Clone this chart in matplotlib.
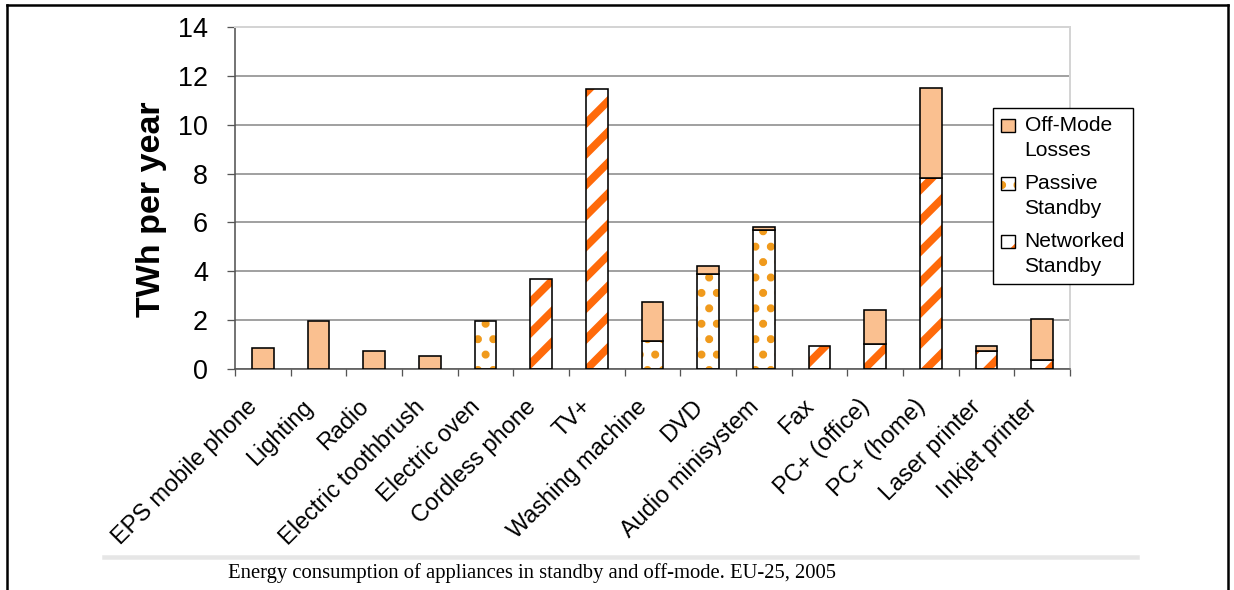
import numpy as np
import matplotlib
matplotlib.use("Agg")
import matplotlib.pyplot as plt
from matplotlib.lines import Line2D
from matplotlib.patches import Patch, Rectangle
from matplotlib.transforms import ScaledTranslation

# standby / off-mode consumption per appliance, TWh per year
appliances = ["EPS mobile phone", "Lighting", "Radio", "Electric toothbrush",
              "Electric oven", "Cordless phone", "TV+", "Washing machine", "DVD",
              "Audio minisystem", "Fax", "PC+ (office)", "PC+ (home)",
              "Laser printer", "Inkjet printer"]
networked = [0, 0, 0, 0, 0, 3.7, 11.45, 0, 0, 0, 0.93, 1.03, 7.82, 0.72, 0.38]
passive = [0, 0, 0, 0, 1.95, 0, 0, 1.13, 3.88, 5.7, 0, 0, 0, 0, 0]
offmode = [0.85, 1.95, 0.72, 0.53, 0, 0, 0, 1.6, 0.35, 0.1, 0, 1.38, 3.7, 0.22, 1.68]
yticks = [0, 2, 4, 6, 8, 10, 12, 14]
series_labels = ["Off-Mode\nLosses", "Passive\nStandby", "Networked\nStandby"]

caption = "Energy consumption of appliances in standby and off-mode. EU-25, 2005"

PEACH = "#fac090"
STRIPE = "#ff6a0a"
DOTS = "#f09a1c"

DPI = 185
W, H = 1234, 590
plt.rcParams["font.family"] = ["Liberation Sans", "DejaVu Sans"]

STRIPE_LW = 3.0
DOT_LW = 1.9
STRIPE_HATCH = "//"
DOT_HATCH = ".."
plt.rcParams["hatch.linewidth"] = STRIPE_LW


def pt(px):
    return px * 72.0 / DPI


def hatch_lw(patches, lw):
    for p in patches:
        if hasattr(p, "set_hatch_linewidth"):
            p.set_hatch_linewidth(lw)


fig = plt.figure(figsize=(W / DPI, H / DPI), dpi=DPI)
X0, X1, Y0, Y1 = 235, 1070, 369, 27
ax = fig.add_axes([X0 / W, 1 - Y0 / H, (X1 - X0) / W, (Y0 - Y1) / H])

x = np.arange(len(appliances))
net = np.array(networked)
pas = np.array(passive)
off = np.array(offmode)
bw = 0.395
edge_lw = pt(1.6)


def edges(vals):
    return ["black" if v > 0 else "none" for v in vals]


# networked standby: white with orange stripes
with plt.rc_context({"hatch.linewidth": STRIPE_LW}):
    b = ax.bar(x, net, bw, color="white", edgecolor=STRIPE, hatch=STRIPE_HATCH,
               linewidth=0, zorder=2)
hatch_lw(b, STRIPE_LW)
ax.bar(x, net, bw, fill=False, edgecolor=edges(net), linewidth=edge_lw, zorder=3)

# passive standby: white with orange dots
with plt.rc_context({"hatch.linewidth": DOT_LW}):
    b = ax.bar(x, pas, bw, bottom=net, color="white", edgecolor=DOTS, hatch=DOT_HATCH,
               linewidth=0, zorder=2)
hatch_lw(b, DOT_LW)
ax.bar(x, pas, bw, bottom=net, fill=False, edgecolor=edges(pas), linewidth=edge_lw, zorder=3)

# off-mode losses: plain peach
ax.bar(x, off, bw, bottom=net + pas, color=PEACH, edgecolor=edges(off),
       linewidth=edge_lw, zorder=3)

ax.set_xlim(-0.5, len(appliances) - 0.5)
ax.set_ylim(0, 14)
ax.set_yticks(yticks)
ax.set_yticklabels([str(v) for v in yticks], fontsize=pt(27))
ax.tick_params(axis="y", length=pt(8), width=pt(1.3), color="#555555", pad=pt(19))

ax.set_xticks(x)
ax.set_xticklabels(appliances, rotation=45, ha="right", va="top",
                   rotation_mode="anchor", fontsize=pt(23.5))
ax.tick_params(axis="x", which="major", length=0, pad=pt(26))
shift = ScaledTranslation(-17 / DPI, 0, fig.dpi_scale_trans)
for lab in ax.get_xticklabels():
    lab.set_transform(lab.get_transform() + shift)
ax.set_xticks(np.arange(-0.5, len(appliances)), minor=True)
ax.tick_params(axis="x", which="minor", length=pt(7), width=pt(1.3), color="#555555",
               direction="out")

ax.set_axisbelow(True)
ax.yaxis.grid(True, color="#8c8c8c", linewidth=pt(1.6))
for side in ("left", "bottom"):
    ax.spines[side].set_color("#555555")
    ax.spines[side].set_linewidth(pt(1.6))
for side in ("top", "right"):
    ax.spines[side].set_color("#d4d4d4")
    ax.spines[side].set_linewidth(pt(2.0))

ax.set_ylabel("TWh per year", fontsize=pt(34), fontweight="bold")
ax.yaxis.set_label_coords((167 - X0) / (X1 - X0), (Y0 - 209) / (Y0 - Y1))


class Swatch:
    """Small legend square, lifted so it sits beside the first label line."""

    def __init__(self, face, hatch=None, hcolor=None, hlw=None, lift=0.0):
        self.face, self.hatch, self.hcolor, self.hlw, self.lift = face, hatch, hcolor, hlw, lift

    def legend_artist(self, legend, orig_handle, fontsize, handlebox):
        x0, y0 = -handlebox.xdescent, -handlebox.ydescent + self.lift
        w, h = handlebox.width, handlebox.height
        tr = handlebox.get_transform()
        if self.hatch:
            with plt.rc_context({"hatch.linewidth": self.hlw}):
                hp = Rectangle((x0, y0), w, h, facecolor=self.face, edgecolor=self.hcolor,
                               hatch=self.hatch, linewidth=0, transform=tr)
            hatch_lw([hp], self.hlw)
            handlebox.add_artist(hp)
        else:
            handlebox.add_artist(Rectangle((x0, y0), w, h, facecolor=self.face,
                                           linewidth=0, transform=tr))
        box = Rectangle((x0, y0), w, h, fill=False, edgecolor="black",
                        linewidth=pt(1.4), transform=tr)
        handlebox.add_artist(box)
        return box


lift = pt(12.5)
h_off = Patch(facecolor=PEACH)
h_pas = Patch(facecolor="white")
h_net = Patch(facecolor="white")
handlers = {
    h_off: Swatch(PEACH, lift=lift),
    h_pas: Swatch("white", DOT_HATCH, DOTS, DOT_LW, lift=lift),
    h_net: Swatch("white", STRIPE_HATCH, STRIPE, STRIPE_LW, lift=lift),
}
leg = ax.legend([h_off, h_pas, h_net], series_labels, handler_map=handlers,
                loc="upper left",
                bbox_to_anchor=((993 - X0) / (X1 - X0), (Y0 - 108) / (Y0 - Y1)),
                fontsize=pt(21), frameon=True, fancybox=False, edgecolor="black",
                framealpha=1, handlelength=0.67, handleheight=0.62, handletextpad=0.43,
                labelspacing=0.7, borderpad=0.4, borderaxespad=0)
leg.get_frame().set_linewidth(pt(1.4))
for t in leg.get_texts():
    t.set_linespacing(1.35)
leg.set_zorder(5)

# page frame, rule and caption
fw = pt(2.5)
fig.add_artist(Line2D([7 / W, 7 / W], [0, 1 - 5 / H], color="black", linewidth=fw))
fig.add_artist(Line2D([7 / W, 1228 / W], [1 - 5 / H, 1 - 5 / H], color="black", linewidth=fw))
fig.add_artist(Line2D([1228 / W, 1228 / W], [0, 1 - 5 / H], color="black", linewidth=fw))
fig.add_artist(Line2D([104 / W, 1137 / W], [1 - 557 / H, 1 - 557 / H], color="#e6e6e6",
                      linewidth=pt(4.5)))
fig.text(532 / W, 1 - 573 / H, caption, ha="center", va="center",
         family=["Liberation Serif", "DejaVu Serif"], fontsize=pt(20.6))

fig.savefig("out.png", dpi=DPI)
